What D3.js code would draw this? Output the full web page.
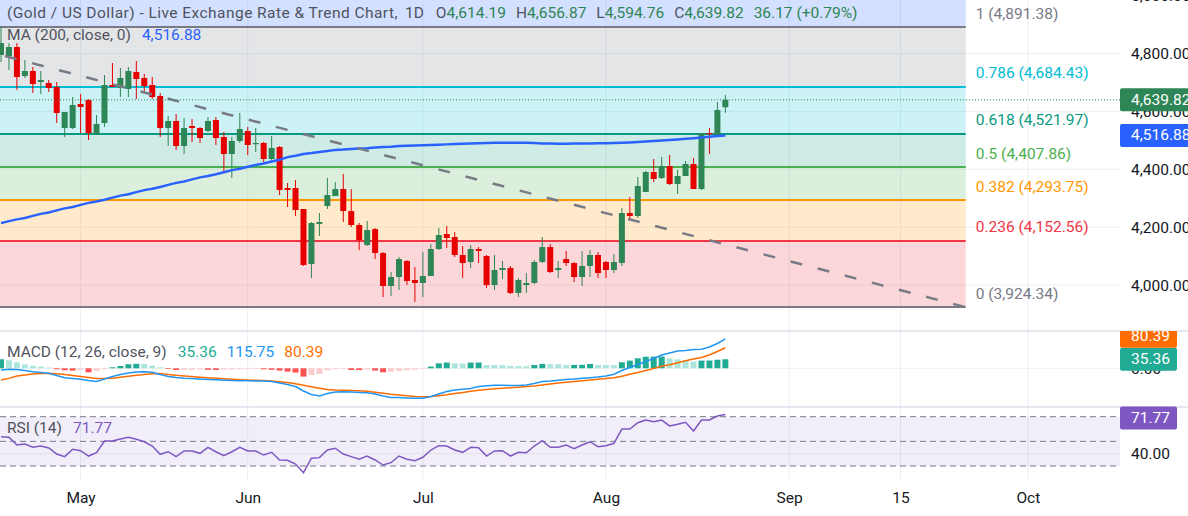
<!DOCTYPE html>
<html lang="en">
<head>
  <meta charset="UTF-8">
  <title>Gold / US Dollar - Daily</title>
  <script src="https://d3js.org/d3.v7.min.js"></script>
  <style>
    body { margin: 0; background: #fff; }
    svg { display: block; font-family: Roboto, 'Noto Sans', sans-serif; }
  </style>
</head>
<body>
  <svg width="1188" height="516"></svg>

  <script>
    // daily candles, 17 Apr 2026 .. 24 Aug 2026 (index 0..91)
    const openP = [4794.7,4791.2,4822.3,4722.2,4739.4,4701.4,4698,4684.2,4542.5,4542.5,4625.5,4639.2,4521.8,4559.8,4691,4680.7,4677.2,4736,4715.2,4691,
      4653,4542.5,4566.7,4480.4,4549.4,4542.5,4532.2,4570.2,4511.5,4452.8,4497.7,4532.2,4487.3,4490.8,4435.5,4476.9,4335.3,4335.3,4262.8,4072.8,
      4210.9,4273.1,4307.6,4331.8,4255.8,4207.5,4138.4,4193.6,4110.8,3996.8,4027.9,4083.2,4017.5,4007.2,4031.3,4124.6,4176.4,4166,4103.9,4079.7,
      4124.6,4100.4,4000.2,4052.1,4059,3972.7,4000.2,4007.2,4079.7,4131.5,4052.1,4090,4076.2,4027.9,4065.9,4103.9,4079.7,4052.1,4076.2,4248.9,
      4238.6,4321.5,4390.6,4369.8,4411.3,4349.1,4376.7,4418.2,4331.8,4525.3,4514.9,4614.19];
    const highP = [4891.38,4836,4836,4777.4,4753.2,4739.4,4708.3,4701.4,4597.8,4649.6,4660,4642.7,4587.5,4725.6,4767,4749.8,4753.2,4774,4729,4718.7,
      4663.4,4584,4590.9,4577.1,4573.6,4546,4580.5,4580.5,4528.7,4511.5,4594.4,4546,4542.5,4494.2,4514.9,4480.4,4352.6,4362.9,4262.8,4217.8,
      4248.9,4369.8,4356,4383.7,4331.8,4214.4,4221.3,4197.1,4114.2,4045.2,4096.9,4086.6,4062.4,4114.2,4141.8,4197.1,4204,4183.3,4134.9,4138.4,
      4131.5,4103.9,4103.9,4083.2,4065.9,4024.4,4041.7,4086.6,4166,4141.8,4083.2,4117.7,4079.7,4117.7,4121.1,4114.2,4083.2,4107.3,4266.2,4304.2,
      4373.3,4394,4435.5,4442.5,4449.3,4397.5,4428.6,4439,4525.3,4542.5,4632.3,4656.87];
    const lowP = [4770.5,4742.9,4673.8,4715.2,4663.4,4660,4666.9,4559.8,4511.5,4539.1,4525.3,4501.1,4518.4,4546,4684,4649.6,4649.6,4642.7,4666.9,4642.7,
      4511.5,4480.4,4466.6,4452.8,4494.2,4490.8,4528.7,4483.9,4390.6,4369.8,4490.8,4449.3,4459.7,4425.2,4421.7,4311.1,4269.7,4238.6,4065.9,4024.4,
      4169.5,4262.8,4307.6,4217.8,4200.6,4121.1,4134.9,4090,3958.9,3962.3,3983,4000.2,3941.6,3958.9,4031.3,4121.1,4128,4096.9,4024.4,4059,
      4076.2,3989.9,3983,4021,3969.2,3958.9,3972.7,4003.7,4076.2,4041.7,4024.4,4065.9,4010.6,3996.8,4027.9,4024.4,4024.4,4041.7,4065.9,4224.8,
      4231.7,4321.5,4356,4366.4,4345.6,4314.5,4376.7,4331.8,4328.4,4452.8,4511.5,4594.76];
    const closeP = [4836,4822.3,4718.7,4739.4,4694.5,4708.3,4680.7,4594.4,4597.8,4622,4615.1,4525.3,4556.4,4691,4684.2,4715.2,4739.4,4711.8,4687.6,4649.6,
      4542.5,4566.7,4480.4,4542.5,4542.5,4508,4566.7,4508,4452.8,4497.7,4539.1,4483.9,4490.8,4435.5,4473.5,4328.4,4328.4,4259.3,4069.3,4214.4,
      4217.8,4311.1,4331.8,4255.8,4207.5,4155.7,4190.2,4110.8,3996.8,4027.9,4090,4014.1,4007.2,4031.3,4124.6,4172.9,4162.6,4103.9,4076.2,4124.6,
      4117.7,4000.2,4052.1,4059,3972.7,4017.5,4007.2,4079.7,4131.5,4045.2,4059,4076.2,4027.9,4065.9,4103.9,4041.7,4052.1,4079.7,4248.9,4238.6,
      4342.2,4390.6,4366.4,4411.3,4349.1,4376.7,4418.2,4331.8,4525.3,4521.8,4604.7,4639.82];

    const ma200 = [4214,4221,4227,4232,4239,4246,4251,4258,4265,4270,4277,4284,4289,4295,4302,4309,4314,4321,4328,4333,
      4339,4346,4353,4358,4365,4372,4377,4383,4390,4397,4402,4409,4415,4420,4427,4433,4442,4447,4453,4456,
      4460,4463,4467,4468,4470,4472,4473,4475,4477,4478,4480,4481,4482,4483,4484,4485,4486,4487,4488,4489,
      4490,4491,4491.5,4492,4492,4491.8,4491.4,4490.4,4489.4,4488.7,4488.3,4488.3,4488.7,4489,4489.4,4489.7,4490,4490.7,4491.8,4492.8,
      4494.2,4496,4497.7,4499.4,4501.1,4503.2,4505.3,4507.3,4509.7,4512.2,4514.9,4516.88];

    const macdLine = [-6.7,-3.9,-4.3,-8.6,-13.3,-16.5,-19.6,-28.2,-37.2,-40,-42.7,-47.8,-51.7,-41.9,-32.1,-24.3,-18.4,-14.5,-13.3,-15.3,
      -24.3,-32.1,-36.1,-38.8,-40.4,-41.9,-43.5,-45.1,-46.6,-48.2,-48.6,-49,-49.4,-49.8,-51.7,-57.6,-63.5,-71.3,-89,-102.7,
      -108.6,-98.8,-92.9,-91.7,-92.9,-94.5,-95.6,-100.7,-108.6,-114.5,-114.9,-116.4,-117.6,-117.6,-110.5,-100.7,-90.9,-85.1,-82.3,-79.2,
      -71.3,-68.6,-66.6,-66.6,-67.4,-67.8,-65.5,-59.6,-51.7,-49.8,-46.6,-43.9,-41.9,-39.2,-36.8,-34.1,-30.2,-23.5,-8.6,3.1,
      14.9,26.7,38.4,52.1,60,67.8,69.8,73.7,74.9,83.5,97.2,115.75];
    const signalLine = [-45.9,-39.6,-30.2,-26.3,-22.3,-20.8,-19.6,-21.6,-24.3,-28.2,-32.1,-36.1,-40,-40,-39.2,-35.3,-31.4,-27.4,-24.3,-21.6,
      -20.8,-24.3,-27.4,-30.2,-32.5,-34.9,-37.2,-39.2,-41.2,-43.1,-44.7,-45.9,-47,-48.2,-49.8,-52.9,-56.1,-60.8,-66.6,-72.5,
      -78,-83.1,-85.1,-86.2,-87,-87.8,-89.8,-93.7,-98,-101.9,-104.7,-107.8,-110.2,-111.3,-110.9,-107.4,-103.9,-98.8,-94.9,-90.2,
      -86.2,-83.1,-80.4,-78,-76.4,-74.1,-71.7,-69.4,-65.5,-61.5,-57.6,-54.5,-51.7,-49,-45.9,-42.7,-40,-36.8,-31.4,-23.5,
      -16.5,-8.6,-0.8,7.8,14.1,22,29.8,36.5,42.3,52.1,65.9,80.39];
    const macdHist = [35.3,31.4,23.5,15.7,9.8,6.7,2.7,-3.9,-7.8,-9,-5.9,-15.7,-9.8,-3.9,3.9,9,15.7,17.6,16.9,10.6,
      3.9,-2.7,-6.7,-6.3,-5.9,-5.1,-5.9,-6.7,-5.9,-5.1,-3.9,-3.1,-2.7,-3.9,-5.9,-9,-12.9,-16.9,-32.5,-26.3,
      -22.4,-7.8,-3.9,-3.1,-6.7,-7.1,-5.1,-9,-15.7,-12.9,-10.6,-7.8,-5.1,-2.7,6.7,19.6,22.4,19.6,18.8,22.4,
      22.7,12.9,12.5,12.2,9,8.6,8.2,12.9,16.9,16.5,16.1,12.9,13.3,13.7,16.9,13.3,12.9,12.5,23.5,30.2,
      39.2,45.5,45.9,46.3,39.2,35.3,32.5,26.3,30.2,30.6,33.5,35.36];

    const rsi14 = [53.8,53.3,47,47.9,45.2,46.2,44.6,39.7,37.6,43.6,42.4,38.1,40.8,50.3,50.3,51.9,53.3,51.7,49.7,46.2,
      39.5,41.6,37.6,42.2,42.2,40.3,45.2,41.6,38.4,41.6,45.2,42.2,42.2,38.9,41.1,34.9,34.6,31.6,24.6,36.3,
      36.8,43,44.4,39.7,37.6,35.5,38.1,34.9,30.8,32.7,38.1,35.5,34.3,37.1,43,46.5,46.2,43,41.1,45.2,
      44.9,38.1,42.2,42.4,38.1,41.1,40.8,46.2,50.5,45.2,45.2,47,44.1,47,49.7,45.7,46.5,48.4,60,60,
      65.1,67.3,65.9,67.3,62.5,63.8,65.5,58.4,67.3,67.3,70.6,71.77];

    const fibRatios = [1, 0.786, 0.618, 0.5, 0.382, 0.236, 0];
    const fibPrices = [4891.38, 4684.43, 4521.97, 4407.86, 4293.75, 4152.56, 3924.34];
    const fibFrom = -2, fibTo = 121.2;            // bar index of the drawing's ends
    const trendIdx = [0.5, 121.1];
    const trendPrice = [4791, 3924.34];
    const lastChange = 36.17, lastChangePct = 0.79;

    const priceTicks = [5000, 4800, 4600, 4400, 4200, 4000];
    const timeTickIdx = [10, 31, 53, 76, 99, 113, 129];
    const timeTickLabels = ["May", "Jun", "Jul", "Aug", "Sep", "15", "Oct"];

    const fibColors = ["#787b86", "#00bcd4", "#089981", "#4caf50", "#ff9800", "#f23645", "#787b86"];
    const up = "#2e8555", down = "#e60000", txt = "#131722", legendGray = "#50535e";

    const svg = d3.select("svg");
    const plotRight = 1120, axisX = 1131, fs = 15.5;
    const fmt = d3.format(",.2f");

    const x = d3.scaleLinear().domain([0, 140]).range([1, 1 + 7.96 * 140]);
    const y = d3.scaleLinear().domain([3924.34, 4891.38]).range([307, 27]);
    const yMacd = d3.scaleLinear().domain([-151.8, 146.3]).range([407, 331]);
    const yRsi = d3.scaleLinear().domain([18.66, 77.87]).range([480, 407]);

    const defs = svg.append("defs");
    [["clipMain", 0, 331], ["clipMacd", 331, 76], ["clipRsi", 407, 73]].forEach(c => {
      defs.append("clipPath").attr("id", c[0])
        .append("rect").attr("x", 0).attr("y", c[1]).attr("width", plotRight).attr("height", c[2]);
    });
    defs.append("clipPath").attr("id", "clipTag").append("rect")
      .attr("x", 1100).attr("y", 331).attr("width", 88).attr("height", 76);

    // grid
    svg.append("g").selectAll("line").data(timeTickIdx).join("line")
      .attr("x1", d => x(d)).attr("x2", d => x(d)).attr("y1", 0).attr("y2", 480)
      .attr("stroke", "#eceef2");
    svg.append("g").selectAll("line").data(priceTicks).join("line")
      .attr("x1", 0).attr("x2", plotRight).attr("y1", d => y(d)).attr("y2", d => y(d))
      .attr("stroke", "#eceef2");

    // header strip
    svg.append("rect").attr("x", 0).attr("y", 0).attr("width", x(fibTo)).attr("height", 26)
      .attr("fill", "rgba(41,98,255,0.2)");

    const main = svg.append("g").attr("clip-path", "url(#clipMain)");

    // fibonacci retracement
    const fib = main.append("g");
    fib.selectAll("rect").data(d3.range(fibPrices.length - 1)).join("rect")
      .attr("x", x(fibFrom)).attr("width", x(fibTo) - x(fibFrom))
      .attr("y", i => y(fibPrices[i])).attr("height", i => y(fibPrices[i + 1]) - y(fibPrices[i]))
      .attr("fill", i => fibColors[i]).attr("fill-opacity", 0.2);
    fib.selectAll("line").data(fibPrices).join("line")
      .attr("x1", x(fibFrom)).attr("x2", x(fibTo))
      .attr("y1", d => y(d)).attr("y2", d => y(d))
      .attr("stroke", (d, i) => fibColors[i]).attr("stroke-width", 2);

    // candles
    const candles = main.append("g").selectAll("g").data(openP).join("g")
      .attr("fill", (d, i) => closeP[i] >= d ? up : down)
      .attr("stroke", (d, i) => closeP[i] >= d ? up : down);
    candles.append("line")
      .attr("x1", (d, i) => x(i)).attr("x2", (d, i) => x(i))
      .attr("y1", (d, i) => y(highP[i])).attr("y2", (d, i) => y(lowP[i]))
      .attr("stroke-width", 1);
    candles.append("rect")
      .attr("stroke", "none")
      .attr("x", (d, i) => x(i) - 3).attr("width", 6)
      .attr("y", (d, i) => y(Math.max(d, closeP[i])))
      .attr("height", (d, i) => Math.max(1.2, Math.abs(y(d) - y(closeP[i]))));

    // 200 MA
    main.append("path").datum(ma200)
      .attr("d", d3.line().x((d, i) => x(i)).y(d => y(d)))
      .attr("fill", "none").attr("stroke", "#2962ff").attr("stroke-width", 2.5);

    // trend line
    main.append("path").datum(d3.zip(trendIdx, trendPrice))
      .attr("d", d3.line().x(d => x(d[0])).y(d => y(d[1])))
      .attr("fill", "none").attr("stroke", "#787b86").attr("stroke-width", 2.5)
      .attr("stroke-dasharray", "12,16");

    // last price line
    const last = closeP.length - 1;
    svg.append("line").attr("x1", 0).attr("x2", plotRight)
      .attr("y1", y(closeP[last])).attr("y2", y(closeP[last]))
      .attr("stroke", up).attr("stroke-dasharray", "1,2");

    // fib labels
    svg.append("g").selectAll("text").data(fibPrices).join("text")
      .attr("x", x(fibTo) + 10).attr("y", d => y(d) - 13.5)
      .attr("dominant-baseline", "central").attr("font-size", fs)
      .attr("fill", (d, i) => fibColors[i])
      .text((d, i) => `${fibRatios[i]} (${fmt(d)})`);

    // legend rows: items laid out one after another
    function legendRow(yc, items) {
      let cx = 7;
      items.forEach(it => {
        const t = svg.append("text").attr("x", cx).attr("y", yc)
          .attr("dominant-baseline", "central").attr("font-size", fs)
          .attr("letter-spacing", it.ls || null);
        it.parts.forEach(p => t.append("tspan").attr("fill", p[1]).text(p[0]));
        cx += t.node().getComputedTextLength() + it.gap;
      });
    }
    legendRow(13, [
      { parts: [["(Gold / US Dollar) - Live Exchange Rate & Trend Chart,", legendGray]], gap: 7, ls: 0.45 },
      { parts: [["1D", legendGray]], gap: 12 },
      { parts: [["O", legendGray], [fmt(openP[last]), up]], gap: 10 },
      { parts: [["H", legendGray], [fmt(highP[last]), up]], gap: 10 },
      { parts: [["L", legendGray], [fmt(lowP[last]), up]], gap: 10 },
      { parts: [["C", legendGray], [fmt(closeP[last]), up]], gap: 10 },
      { parts: [[`${lastChange} (+${lastChangePct}%)`, up]], gap: 0 }
    ]);
    legendRow(35, [
      { parts: [["MA (200, close, 0)", legendGray]], gap: 11 },
      { parts: [[fmt(ma200[last]), "#2962ff"]], gap: 0 }
    ]);

    // price axis
    const yAxis = svg.append("g").attr("transform", `translate(${axisX},0)`)
      .call(d3.axisRight(y).tickValues(priceTicks).tickFormat(fmt).tickSize(0).tickPadding(0));
    yAxis.select(".domain").remove();
    yAxis.attr("font-family", null).selectAll("text").attr("font-size", fs).attr("fill", txt);

    function tag(yc, label, color, w) {
      svg.append("rect").attr("x", plotRight).attr("y", yc - 11.5).attr("width", w).attr("height", 23)
        .attr("rx", 2).attr("fill", color);
      svg.append("text").attr("x", axisX).attr("y", yc).attr("dominant-baseline", "central")
        .attr("font-size", fs).attr("fill", "#fff").text(label);
    }
    tag(y(closeP[last]), fmt(closeP[last]), up, 80);
    tag(y(ma200[last]), fmt(ma200[last]), "#2962ff", 80);

    // pane separators
    svg.selectAll(".sep").data([331, 407]).join("line").attr("class", "sep")
      .attr("x1", 0).attr("x2", 1188).attr("y1", d => d).attr("y2", d => d)
      .attr("stroke", "#dfe1ea").attr("stroke-width", 1.5);

    // MACD pane
    svg.append("line").attr("x1", 0).attr("x2", plotRight).attr("y1", yMacd(0)).attr("y2", yMacd(0))
      .attr("stroke", "#eff1f4");
    const macdG = svg.append("g").attr("clip-path", "url(#clipMacd)");
    macdG.append("g").selectAll("rect").data(macdHist).join("rect")
      .attr("x", (d, i) => x(i) - 3).attr("width", 6)
      .attr("y", d => Math.min(yMacd(d), yMacd(0)))
      .attr("height", d => Math.abs(yMacd(d) - yMacd(0)))
      .attr("fill", (d, i) => {
        const prev = i > 0 ? macdHist[i - 1] : d;
        if (d >= 0) return d >= prev ? "#22ab94" : "#ace5dc";
        return d <= prev ? "#ff5252" : "#fccbcd";
      });
    const mLine = d3.line().x((d, i) => x(i)).y(d => yMacd(d));
    macdG.append("path").datum(signalLine).attr("d", mLine)
      .attr("fill", "none").attr("stroke", "#ff6d00").attr("stroke-width", 1.5);
    macdG.append("path").datum(macdLine).attr("d", mLine)
      .attr("fill", "none").attr("stroke", "#2196f3").attr("stroke-width", 1.5);

    const macdAxis = svg.append("g").attr("transform", `translate(${axisX},0)`)
      .call(d3.axisRight(yMacd).tickValues([0]).tickFormat(fmt).tickSize(0).tickPadding(0));
    macdAxis.select(".domain").remove();
    macdAxis.attr("font-family", null).selectAll("text").attr("font-size", fs).attr("fill", txt);

    legendRow(351.5, [
      { parts: [["MACD (12, 26, close, 9)", legendGray]], gap: 11 },
      { parts: [[fmt(macdHist[last]), "#22ab94"]], gap: 10 },
      { parts: [[fmt(macdLine[last]), "#2196f3"]], gap: 10 },
      { parts: [[fmt(signalLine[last]), "#ff6d00"]], gap: 0 }
    ]);
    const histY = yMacd(macdHist[last]);
    const sigY = Math.min(yMacd(signalLine[last]), histY - 23);
    tag(histY, fmt(macdHist[last]), "#22ab94", 57);
    const sigTag = svg.append("g").attr("clip-path", "url(#clipTag)");
    sigTag.append("rect").attr("x", plotRight).attr("y", sigY - 11.5).attr("width", 57).attr("height", 23)
      .attr("rx", 2).attr("fill", "#ff6d00");
    sigTag.append("text").attr("x", axisX).attr("y", sigY).attr("dominant-baseline", "central")
      .attr("font-size", fs).attr("fill", "#fff").text(fmt(signalLine[last]));

    // RSI pane
    svg.append("rect").attr("x", 0).attr("width", plotRight)
      .attr("y", yRsi(70)).attr("height", yRsi(30) - yRsi(70))
      .attr("fill", "#7e57c2").attr("fill-opacity", 0.1);
    svg.append("line").attr("x1", 0).attr("x2", plotRight).attr("y1", yRsi(40)).attr("y2", yRsi(40))
      .attr("stroke", "#e3e0ec");
    svg.append("g").selectAll("line").data([70, 50, 30]).join("line")
      .attr("x1", 0).attr("x2", plotRight).attr("y1", d => yRsi(d)).attr("y2", d => yRsi(d))
      .attr("stroke", "#787b86").attr("stroke-dasharray", "6,4");
    svg.append("g").attr("clip-path", "url(#clipRsi)")
      .append("path").datum(rsi14)
      .attr("d", d3.line().x((d, i) => x(i)).y(d => yRsi(d)))
      .attr("fill", "none").attr("stroke", "#7e57c2").attr("stroke-width", 1.5);
    const rsiAxis = svg.append("g").attr("transform", `translate(${axisX},0)`)
      .call(d3.axisRight(yRsi).tickValues([40]).tickFormat(fmt).tickSize(0).tickPadding(0));
    rsiAxis.select(".domain").remove();
    rsiAxis.attr("font-family", null).selectAll("text").attr("font-size", fs).attr("fill", txt);
    legendRow(428, [
      { parts: [["RSI (14)", legendGray]], gap: 11 },
      { parts: [[fmt(rsi14[last]), "#7e57c2"]], gap: 0 }
    ]);
    tag(Math.max(yRsi(rsi14[last]), 407 + 11), fmt(rsi14[last]), "#7e57c2", 57);

    // time axis
    const xAxis = svg.append("g").attr("transform", "translate(0,492)")
      .call(d3.axisBottom(x).tickValues(timeTickIdx).tickFormat((d, i) => timeTickLabels[i]).tickSize(0).tickPadding(0));
    xAxis.select(".domain").remove();
    xAxis.attr("font-family", null).selectAll("text").attr("font-size", fs).attr("fill", txt);
  </script>
</body>
</html>
